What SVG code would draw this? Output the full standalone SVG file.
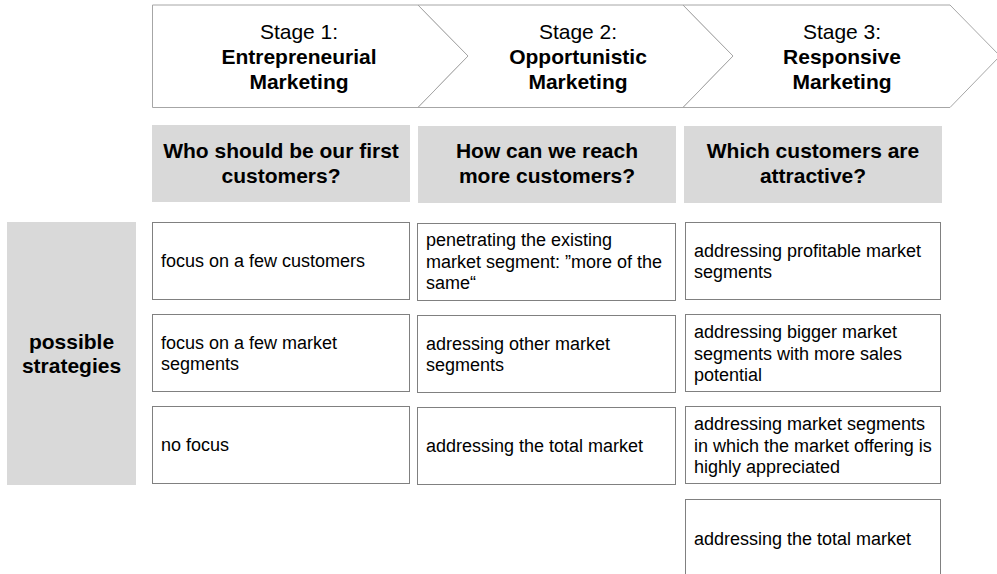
<svg xmlns="http://www.w3.org/2000/svg" width="997" height="574" viewBox="0 0 997 574">
<style>
text{font-family:"Liberation Sans",Arial,sans-serif;fill:#000}
.st{font-size:21px;text-anchor:middle}
.b{font-size:21px;font-weight:bold;text-anchor:middle}
.t{font-size:18px}
.chev{fill:#fff;stroke:#a6a6a6;stroke-width:1}
.hdr{fill:#d9d9d9}
.box{fill:#fff;stroke:#808080;stroke-width:1}
</style>
<rect width="997" height="574" fill="#fff"/>
<g id="stage1">
<polygon class="chev" points="152.5,5 418,5 468,56 418,107.5 152.5,107.5"/>
<text class="st" x="299" y="39">Stage 1:</text>
<text class="b" x="299" y="64">Entrepreneurial</text>
<text class="b" x="299" y="89">Marketing</text>
</g>
<g id="stage2">
<polygon class="chev" points="418,5 683,5 733,56 683,107.5 418,107.5 468,56"/>
<text class="st" x="578" y="39">Stage 2:</text>
<text class="b" x="578" y="64">Opportunistic</text>
<text class="b" x="578" y="89">Marketing</text>
</g>
<g id="stage3">
<polygon class="chev" points="683,5 950,5 1000,56 950,107.5 683,107.5 733,56"/>
<text class="st" x="842" y="39">Stage 3:</text>
<text class="b" x="842" y="64">Responsive</text>
<text class="b" x="842" y="89">Marketing</text>
</g>
<g id="q1">
<rect class="hdr" x="152" y="125" width="258" height="77"/>
<text class="b" x="281" y="158">Who should be our first</text>
<text class="b" x="281" y="183">customers?</text>
</g>
<g id="q2">
<rect class="hdr" x="418" y="126" width="258" height="77"/>
<text class="b" x="547" y="158">How can we reach</text>
<text class="b" x="547" y="183">more customers?</text>
</g>
<g id="q3">
<rect class="hdr" x="684" y="126" width="258" height="77"/>
<text class="b" x="813" y="158">Which customers are</text>
<text class="b" x="813" y="183">attractive?</text>
</g>
<g id="possible">
<rect class="hdr" x="7" y="222" width="129" height="263"/>
<text class="b" x="71.5" y="349">possible</text>
<text class="b" x="71.5" y="373">strategies</text>
</g>
<g id="s1a">
<rect class="box" x="152.5" y="222.5" width="257" height="77"/>
<text class="t" x="161" y="267">focus on a few customers</text>
</g>
<g id="s1b">
<rect class="box" x="152.5" y="314.5" width="257" height="77"/>
<text class="t" x="161" y="349">focus on a few market</text>
<text class="t" x="161" y="370">segments</text>
</g>
<g id="s1c">
<rect class="box" x="152.5" y="406.5" width="257" height="77"/>
<text class="t" x="161" y="451">no focus</text>
</g>
<g id="s2a">
<rect class="box" x="417.5" y="223.5" width="258" height="77"/>
<text class="t" x="426" y="246">penetrating the existing</text>
<text class="t" x="426" y="267.5">market segment: ”more of the</text>
<text class="t" x="426" y="289">same“</text>
</g>
<g id="s2b">
<rect class="box" x="417.5" y="315.5" width="258" height="77"/>
<text class="t" x="426" y="350">adressing other market</text>
<text class="t" x="426" y="371">segments</text>
</g>
<g id="s2c">
<rect class="box" x="417.5" y="407.5" width="258" height="77"/>
<text class="t" x="426" y="452">addressing the total market</text>
</g>
<g id="s3a">
<rect class="box" x="685.5" y="222.5" width="255" height="77"/>
<text class="t" x="694" y="257">addressing profitable market</text>
<text class="t" x="694" y="278">segments</text>
</g>
<g id="s3b">
<rect class="box" x="685.5" y="314.5" width="255" height="77"/>
<text class="t" x="694" y="338">addressing bigger market</text>
<text class="t" x="694" y="359.5">segments with more sales</text>
<text class="t" x="694" y="381">potential</text>
</g>
<g id="s3c">
<rect class="box" x="685.5" y="406.5" width="255" height="77"/>
<text class="t" x="694" y="430">addressing market segments</text>
<text class="t" x="694" y="451.5">in which the market offering is</text>
<text class="t" x="694" y="473">highly appreciated</text>
</g>
<g id="s3d">
<rect class="box" x="685.5" y="499.5" width="255" height="80"/>
<text class="t" x="694" y="545">addressing the total market</text>
</g>
<g id="connectors"></g>
</svg>
